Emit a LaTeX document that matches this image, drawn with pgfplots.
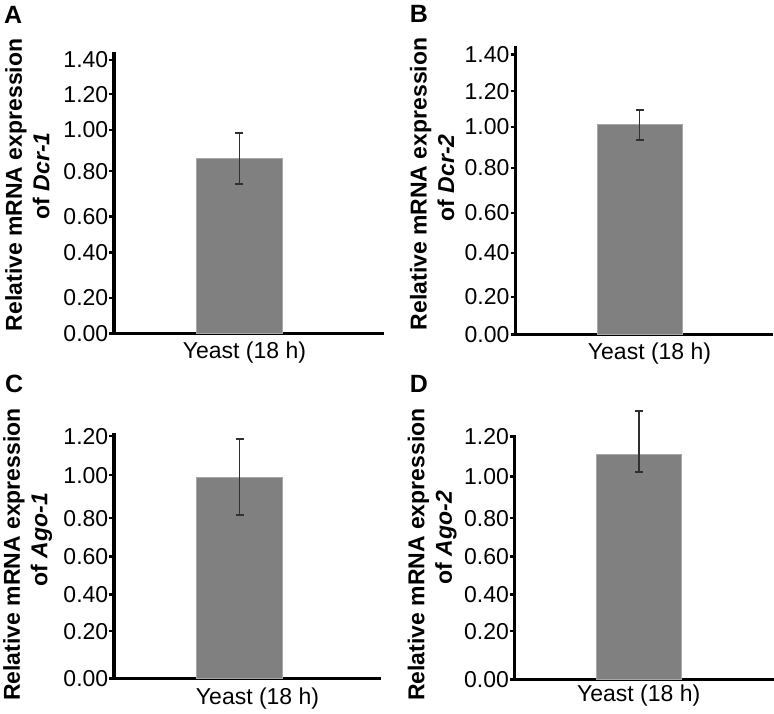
\documentclass[border=0pt]{standalone}
\usepackage{pgfplots}
\pgfplotsset{compat=1.18}
\usepackage{fontspec}
\setmainfont{Liberation Sans}
\definecolor{barfill}{HTML}{808080}
\definecolor{baredge}{HTML}{A8A8A8}
\definecolor{errcol}{HTML}{303030}

\pgfplotsset{
  panel/.style={
    scale only axis,
    axis lines=left,
    axis line style={-, line width=3.2pt, black, line cap=rect},
    ytick align=outside,
    xtick align=inside,
    major tick length=4.5pt,
    ytick style={line width=2.5pt, black},
    xtick style={draw=none},
    /pgf/number format/assume math mode=true,
    tick label style={font=\fontsize{23}{27}\selectfont},
    yticklabel style={inner xsep=1pt},
    xticklabel style={inner sep=0pt, anchor=north},
    xtick={0},
    xticklabels={Yeast (18 h)},
    ylabel style={anchor=north, rotate=0, align=center, inner sep=0pt,
      font=\bfseries\fontsize{23}{27.5}\selectfont},
    clip=false,
  },
  barplot/.style={
    ybar, bar width=1, fill=barfill, draw=baredge, line width=0.8pt,
    error bars/.cd, y dir=both, y explicit,
    error bar style={line width=1.6pt, draw=errcol, solid},
    error mark=-,
    error mark options={rotate=90, line width=1.6pt, draw=errcol, mark size=4pt, solid},
  },
}

\begin{document}
\begin{tikzpicture}
\path (0pt,0pt) rectangle (774pt,714pt);

% Panel A
\begin{axis}[panel, at={(114pt,380pt)}, anchor=south west,
  width=269pt, height=280pt,
  xmin=-1.464, xmax=1.671, ymin=0, ymax=1.4307,
  ytick={0,0.1839,0.4164,0.6004,0.8313,1.0423,1.2247,1.4},
  yticklabels={0.00,0.20,0.40,0.60,0.80,1.00,1.20,1.40},
  ylabel={Relative mRNA expression\\\hspace*{18pt}of \textit{Dcr-1}},
  ylabel style={at={(axis description cs:-0.405,0.532)}},
  xticklabel style={xshift=5pt, yshift=-8pt},
]
\addplot[barplot] coordinates {(0,0.896) +- (0,0.129)};
\end{axis}

% Panel B
\begin{axis}[panel, at={(515.5pt,379pt)}, anchor=south west,
  width=256.5pt, height=287pt,
  xmin=-1.465, xmax=1.553, ymin=0, ymax=1.4324,
  ytick={0,0.1887,0.4093,0.6089,0.8335,1.0381,1.2163,1.4},
  yticklabels={0.00,0.20,0.40,0.60,0.80,1.00,1.20,1.40},
  ylabel={Relative mRNA expression\\\hspace*{12pt}of \textit{Dcr-2}},
  ylabel style={at={(axis description cs:-0.411,0.526)}},
  xticklabel style={xshift=10pt, yshift=-8pt},
]
\addplot[barplot] coordinates {(0,1.050) += (0,0.071) -= (0,0.077)};
\end{axis}

% Panel C
\begin{axis}[panel, at={(114pt,35pt)}, anchor=south west,
  width=266pt, height=244pt,
  xmin=-1.462, xmax=1.631, ymin=0, ymax=1.2074,
  ytick={0,0.2341,0.4157,0.6047,0.7942,1.0070,1.2},
  yticklabels={0.00,0.20,0.40,0.60,0.80,1.00,1.20},
  ylabel={Relative mRNA expression\\\hspace*{30pt}of \textit{Ago-1}},
  ylabel style={at={(axis description cs:-0.417,0.508)}},
  xticklabel style={xshift=18pt, yshift=-9pt},
]
\addplot[barplot] coordinates {(0,0.998) +- (0,0.187)};
\end{axis}

% Panel D
\begin{axis}[panel, at={(515pt,34pt)}, anchor=south west,
  width=258pt, height=243pt,
  xmin=-1.450, xmax=1.562, ymin=0, ymax=1.2,
  ytick={0,0.2385,0.4198,0.6089,0.7975,1.0025,1.2},
  yticklabels={0.00,0.20,0.40,0.60,0.80,1.00,1.20},
  ylabel={Relative mRNA expression\\\hspace*{34pt}of \textit{Ago-2}},
  ylabel style={at={(axis description cs:-0.415,0.514)}},
  xticklabel style={xshift=0pt, yshift=-5pt},
]
\addplot[barplot] coordinates {(0,1.111) += (0,0.217) -= (0,0.085)};
\end{axis}

\begin{scope}[every node/.style={anchor=north west, inner sep=0pt,
    font=\bfseries\fontsize{25}{25}\selectfont}]
\node at (4pt,708pt) {A};
\node at (410pt,709pt) {B};
\node at (5pt,339pt) {C};
\node at (410pt,339pt) {D};
\end{scope}
\end{tikzpicture}
\end{document}
